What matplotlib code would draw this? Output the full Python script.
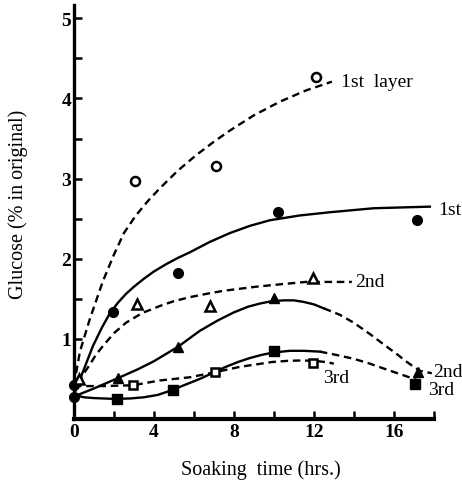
import matplotlib
matplotlib.use("Agg")
import matplotlib.pyplot as plt

# ---- measured points ----
layer1_x = [3.05, 7.1, 12.1]
layer1_y = [2.97, 3.16, 4.27]
first_x = [1.95, 5.2, 10.2, 17.15]
first_y = [1.34, 1.82, 2.58, 2.48]
layer2_x = [3.15, 6.8, 11.95]
layer2_y = [1.43, 1.41, 1.76]
second_x = [2.2, 5.2, 10.0, 17.2]
second_y = [0.51, 0.90, 1.51, 0.59]
layer3_x = [2.95, 7.05, 11.95]
layer3_y = [0.42, 0.58, 0.70]
third_x = [2.15, 4.95, 10.0, 17.05]
third_y = [0.25, 0.36, 0.85, 0.44]
init_filled_x = [0, 0]
init_filled_y = [0.42, 0.27]
init_open_tri_x = [0.25]
init_open_tri_y = [0.50]

# ---- fitted curves ----
c_layer1_x = [0, 0.3, 0.8, 1.45, 2.0, 2.5, 3.1, 3.7, 4.3, 5.2, 6.1, 7.0, 7.8, 9.0, 10.3, 11.6, 12.9]
c_layer1_y = [0.42, 0.84, 1.25, 1.72, 2.05, 2.32, 2.54, 2.72, 2.88, 3.1, 3.29, 3.46, 3.6, 3.79, 3.96, 4.1, 4.21]
c_first_x = [0, 0.5, 0.95, 1.4, 1.8, 2.2, 2.6, 3.0, 3.5, 4.0, 4.6, 5.2, 5.8, 6.8, 7.8, 8.8, 9.8, 11.3, 12.8, 15.0, 17.8]
c_first_y = [0.3, 0.62, 0.91, 1.14, 1.32, 1.45, 1.56, 1.65, 1.75, 1.84, 1.93, 2.01, 2.08, 2.21, 2.32, 2.41, 2.48, 2.54, 2.58, 2.63, 2.65]
c_layer2_x = [0.2, 0.5, 0.8, 1.1, 1.45, 2.0, 2.6, 3.4, 4.3, 5.0, 5.8, 6.6, 7.5, 9.1, 10.3, 11.6, 13.9]
c_layer2_y = [0.45, 0.57, 0.68, 0.8, 0.91, 1.07, 1.2, 1.32, 1.41, 1.47, 1.52, 1.56, 1.6, 1.65, 1.68, 1.71, 1.71]
c_second_solid_x = [0, 1.0, 2.3, 3.2, 4.0, 5.2, 6.3, 7.2, 8.0, 8.7, 9.3, 9.9, 10.5, 11.0, 11.5, 12.0, 12.5]
c_second_solid_y = [0.28, 0.38, 0.52, 0.62, 0.72, 0.9, 1.1, 1.23, 1.33, 1.4, 1.44, 1.47, 1.48, 1.48, 1.46, 1.43, 1.38]
c_second_dash_x = [12.5, 13.3, 14.0, 14.8, 15.6, 16.2, 16.6, 17.0, 17.3, 17.9]
c_second_dash_y = [1.38, 1.3, 1.2, 1.06, 0.91, 0.8, 0.72, 0.65, 0.6, 0.57]
c_layer3_x = [0, 1.5, 2.95, 4.3, 5.8, 7.0, 8.3, 9.1, 9.9, 10.7, 11.4, 12.0, 12.6, 13.0]
c_layer3_y = [0.41, 0.41, 0.42, 0.48, 0.52, 0.58, 0.65, 0.68, 0.71, 0.725, 0.73, 0.725, 0.71, 0.69]
c_third_solid_x = [0, 0.5, 1.0, 2.0, 2.8, 3.5, 4.2, 4.8, 5.5, 6.3, 7.0, 7.5, 8.2, 8.8, 9.4, 10.0, 10.8, 11.5, 12.3]
c_third_solid_y = [0.3, 0.27, 0.26, 0.25, 0.255, 0.27, 0.3, 0.35, 0.42, 0.5, 0.58, 0.64, 0.71, 0.76, 0.8, 0.83, 0.85, 0.85, 0.84]
c_third_dash_x = [12.3, 13.1, 14.0, 14.8, 15.6, 16.3, 17.0, 17.3]
c_third_dash_y = [0.84, 0.8, 0.75, 0.69, 0.62, 0.56, 0.5, 0.47]

labels_text = ["1st  layer", "1st", "2nd", "3rd", "2nd", "3rd"]
labels_x = [13.35, 18.2, 14.05, 12.45, 17.95, 17.7]
labels_y = [4.21, 2.61, 1.71, 0.52, 0.59, 0.37]

xticks_major = [0, 2, 4, 6, 8, 10, 12, 14, 16, 18]
xtick_labels = ["0", "", "4", "", "8", "", "12", "", "16", ""]
yticks_major = [0.5, 1, 1.5, 2, 2.5, 3, 3.5, 4, 4.5, 5]
ytick_labels = ["", "1", "", "2", "", "3", "", "4", "", "5"]

plt.rcParams['font.family'] = ['Liberation Serif', 'DejaVu Serif']

fig = plt.figure(figsize=(4.62, 4.81), dpi=100)
ax = fig.add_axes([0.160, 0.127, 0.779, 0.861])
ax.set_xlim(0, 18)
ax.set_ylim(0, 5.17)

lw = 1.7
dash = (0, (3.2, 2.0))
k = 'black'

ax.plot(c_layer1_x, c_layer1_y, color=k, lw=lw, linestyle=dash, clip_on=False)
ax.plot(c_first_x, c_first_y, color=k, lw=lw, clip_on=False)
ax.plot(c_layer2_x, c_layer2_y, color=k, lw=lw, linestyle=dash, clip_on=False)
ax.plot(c_second_solid_x, c_second_solid_y, color=k, lw=lw, clip_on=False)
ax.plot(c_second_dash_x, c_second_dash_y, color=k, lw=lw, linestyle=dash, clip_on=False)
ax.plot(c_layer3_x, c_layer3_y, color=k, lw=lw, linestyle=dash, clip_on=False)
ax.plot(c_third_solid_x, c_third_solid_y, color=k, lw=lw, clip_on=False)
ax.plot(c_third_dash_x, c_third_dash_y, color=k, lw=lw, linestyle=dash, clip_on=False)

ms = 7
ax.plot(layer1_x, layer1_y, 'o', ms=6.5, mfc='white', mec=k, mew=1.8, ls='none', zorder=5)
ax.plot(first_x, first_y, 'o', ms=ms, mfc=k, mec=k, ls='none', zorder=5)
ax.plot(layer2_x, layer2_y, '^', ms=ms, mfc='white', mec=k, mew=1.8, ls='none', zorder=5)
ax.plot(second_x, second_y, '^', ms=ms + 0.5, mfc=k, mec=k, ls='none', zorder=5)
ax.plot(layer3_x, layer3_y, 's', ms=6, mfc='white', mec=k, mew=1.8, ls='none', zorder=5)
ax.plot(third_x, third_y, 's', ms=6.5, mfc=k, mec=k, ls='none', zorder=5)
ax.plot(init_filled_x, init_filled_y, 'o', ms=ms, mfc=k, mec=k, ls='none', zorder=5, clip_on=False)
ax.plot(init_open_tri_x, init_open_tri_y, '^', ms=ms, mfc='white', mec=k, mew=1.8, ls='none', zorder=5, clip_on=False)

for t, x, y in zip(labels_text, labels_x, labels_y):
    ax.text(x, y, t, fontsize=14, ha='left', va='center', color=k)

ax.spines['top'].set_visible(False)
ax.spines['right'].set_visible(False)
ax.spines['left'].set_linewidth(2.4)
ax.spines['bottom'].set_linewidth(3.0)

ax.set_xticks(xticks_major)
ax.set_xticklabels(xtick_labels)
ax.set_yticks(yticks_major)
ax.set_yticklabels(ytick_labels)
ax.tick_params(axis='both', direction='in', length=6, width=1.8, labelsize=14, colors=k)
for lab in ax.get_xticklabels() + ax.get_yticklabels():
    lab.set_fontweight('bold')
ax.tick_params(axis='y', pad=2)
ax.tick_params(axis='x', pad=3)

ax.set_xlabel("Soaking  time (hrs.)", fontsize=14.5, va='center')
ax.set_ylabel("Glucose (% in original)", fontsize=14.5, va='center')
ax.xaxis.set_label_coords(0.52, -0.121)
ax.yaxis.set_label_coords(-0.155, 0.52)

fig.savefig("out.png", dpi=100)
